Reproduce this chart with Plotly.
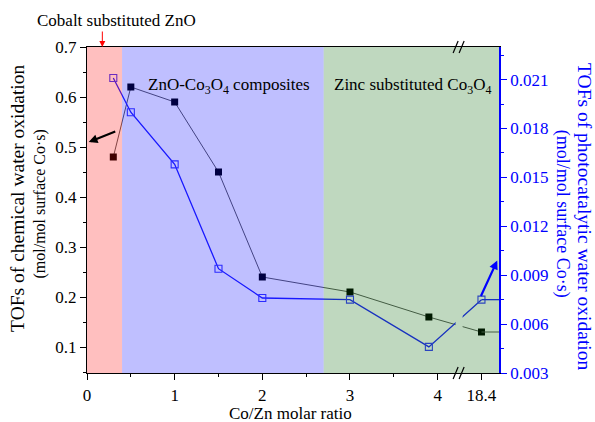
import plotly.graph_objects as go

# ---- data ----
co_zn_ratio = [0.3, 0.5, 1, 1.5, 2, 3, 3.9, 18.4]
tof_chemical = [0.48, 0.62, 0.59, 0.45, 0.24, 0.21, 0.16, 0.13]
tof_photo = [0.0211, 0.0190, 0.0158, 0.0094, 0.0076, 0.0075, 0.0046, 0.0075]
x_tick_labels = ["0", "1", "2", "3", "4", "18.4"]
regions = [
    ("Cobalt substituted ZnO", 0.0, 0.4, "rgb(255,0,0)"),
    ("ZnO-Co<sub>3</sub>O<sub>4</sub> composites", 0.4, 2.7, "rgb(0,0,255)"),
    ("Zinc substituted Co<sub>3</sub>O<sub>4</sub>", 2.7, None, "rgb(0,100,0)"),
]

# broken x axis: values above BREAK_AT are placed after the break
BREAK_AT = 4.245
BROKEN_POS = 4.5
X_MAX = 4.7
Y1_RANGE = [0.048, 0.7]
Y2_RANGE = [0.003, 0.023]


def to_axis(v):
    return v if v <= BREAK_AT else BROKEN_POS


x_plot = [to_axis(v) for v in co_zn_ratio]
tick_raw = [0, 1, 2, 3, 4, 18.4]
tick_pos = [to_axis(v) for v in tick_raw]

FONT = "Liberation Serif, 'Times New Roman', Times, serif"
BLUE = "#0000ff"

fig = go.Figure()
fig.add_trace(go.Scatter(
    x=x_plot, y=tof_chemical, mode="lines+markers",
    line=dict(color="#5a5a5a", width=1),
    marker=dict(symbol="square", size=7, color="black"),
    showlegend=False))
fig.add_trace(go.Scatter(
    x=[x_plot[-1], X_MAX], y=[tof_chemical[-1]] * 2, mode="lines",
    line=dict(color="#5a5a5a", width=1), showlegend=False))
fig.add_trace(go.Scatter(
    x=x_plot, y=tof_photo, mode="lines+markers", yaxis="y2",
    line=dict(color="#2020ff", width=1.3),
    marker=dict(symbol="square-open", size=7, color="#3a3aff", line=dict(width=1.1)),
    showlegend=False))
fig.add_trace(go.Scatter(
    x=[x_plot[-1], X_MAX], y=[tof_photo[-1]] * 2, mode="lines", yaxis="y2",
    line=dict(color="#2020ff", width=1.3), showlegend=False))

shapes = []
# gap in lines at the axis break
shapes.append(dict(type="rect", xref="x", yref="paper", x0=BREAK_AT - 0.04, x1=BREAK_AT + 0.04,
                   y0=0.05, y1=0.5, fillcolor="white", line=dict(width=0), layer="above"))
# coloured regions (translucent, drawn over the data)
for name, a, b, col in regions:
    shapes.append(dict(type="rect", xref="x", yref="paper", x0=a, x1=(b if b is not None else X_MAX),
                       y0=0, y1=1, fillcolor=col, opacity=0.25, line=dict(width=0), layer="above"))
# break marks on bottom and top axis lines
for yp in (0, 1):
    for dx in (-5, 1):
        shapes.append(dict(type="line", xref="x", yref="paper", xsizemode="pixel", ysizemode="pixel",
                           xanchor=BREAK_AT, yanchor=yp, x0=dx - 1, x1=dx + 4, y0=-6, y1=6,
                           line=dict(color="black", width=1.2), layer="above"))
fig.update_layout(shapes=shapes)


def txt(text, x, y, size, color="black", angle=0, xref="paper", yref="paper"):
    return dict(text=text, xref=xref, yref=yref, x=x, y=y, xanchor="center", yanchor="middle",
                textangle=angle, showarrow=False, font=dict(size=size, color=color))


annotations = [
    txt("Cobalt substituted ZnO", 0.072, 1.080, 17),
    dict(text="", xref="x", yref="paper", x=(regions[0][1] + regions[0][2]) / 2 - 0.025, y=1.0,
         showarrow=True, ax=0, ay=-17, arrowcolor="red", arrowwidth=1, arrowhead=2, arrowsize=1.2),
    txt(regions[1][0], 1.62, 0.881, 17, xref="x"),
    txt(regions[2][0], 3.71, 0.881, 17, xref="x"),
    # arrows pointing to axes
    dict(text="", xref="x", yref="y", x=0.02, y=0.51, showarrow=True, ax=28, ay=-11,
         arrowcolor="black", arrowwidth=2.2, arrowhead=2, arrowsize=0.8, standoff=0),
    dict(text="", xref="x", yref="y2", x=4.68, y=0.0099, showarrow=True, ax=-17, ay=37,
         arrowcolor=BLUE, arrowwidth=2.2, arrowhead=2, arrowsize=0.8, standoff=0),
    # axis titles
    txt("TOFs of chemical water oxidation", -0.1675, 0.537, 19.5, angle=-90),
    txt("(mol/mol surface Co·s)", -0.114, 0.517, 16, angle=-90),
    txt("TOFs of photocatalytic water oxidation", 1.2075, 0.480, 19.5, color=BLUE, angle=90),
    txt("(mol/mol surface Co·s)", 1.155, 0.489, 18, color=BLUE, angle=90),
    txt("Co/Zn molar ratio", 0.493, -0.125, 17),
]

fig.update_layout(
    width=595, height=422,
    margin=dict(l=87, r=96, t=47, b=49),
    paper_bgcolor="white", plot_bgcolor="white",
    font=dict(family=FONT, size=17, color="black"),
    annotations=annotations,
    xaxis=dict(range=[0, X_MAX], tickvals=tick_pos, ticktext=x_tick_labels,
               showline=True, linecolor="black", linewidth=1.2, mirror=True,
               ticks="outside", ticklen=6, tickcolor="black", showgrid=False, zeroline=False,
               minor=dict(tickvals=[0.5, 1.5, 2.5, 3.5], ticks="outside", ticklen=3, tickcolor="black"),
               tickfont=dict(size=17)),
    yaxis=dict(range=Y1_RANGE, tickvals=[0.1, 0.2, 0.3, 0.4, 0.5, 0.6, 0.7],
               ticktext=["0.1", "0.2", "0.3", "0.4", "0.5", "0.6", "0.7"],
               showline=True, linecolor="black", linewidth=1.2,
               ticks="outside", ticklen=6, tickcolor="black", showgrid=False, zeroline=False,
               minor=dict(tickvals=[0.05, 0.15, 0.25, 0.35, 0.45, 0.55, 0.65], ticks="outside",
                          ticklen=3, tickcolor="black"),
               tickfont=dict(size=17)),
    yaxis2=dict(range=Y2_RANGE, overlaying="y", side="right",
                tickvals=[0.003, 0.006, 0.009, 0.012, 0.015, 0.018, 0.021],
                ticktext=["0.003", "0.006", "0.009", "0.012", "0.015", "0.018", "0.021"],
                showline=True, linecolor=BLUE, linewidth=1.5,
                ticks="outside", ticklen=6, tickcolor=BLUE, showgrid=False, zeroline=False,
                minor=dict(tickvals=[0.0045, 0.0075, 0.0105, 0.0135, 0.0165, 0.0195, 0.0225],
                           ticks="outside", ticklen=3, tickcolor=BLUE),
                tickfont=dict(size=17, color=BLUE)),
)

fig.write_html("out.html")
